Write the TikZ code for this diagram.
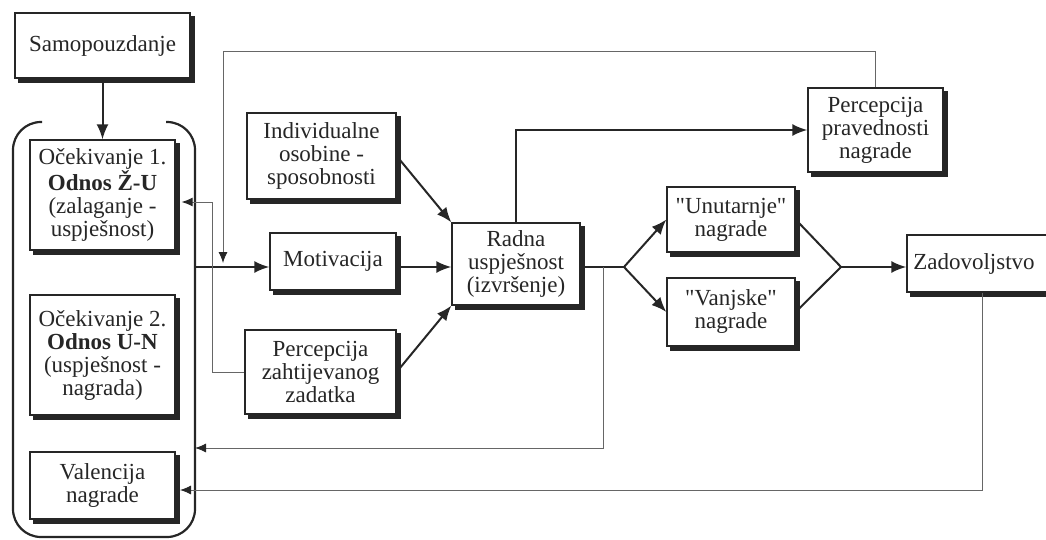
\documentclass[tikz,border=0pt]{standalone}
\usepackage{fontspec}
\setmainfont{Liberation Serif}
\usepackage{tikz}
\usetikzlibrary{arrows.meta}
\pgfdeclarelayer{back}
\pgfsetlayers{back,main}
\definecolor{inkgray}{gray}{0.15}
\definecolor{fbgray}{gray}{0.4}

\begin{document}
\begin{tikzpicture}[x=1pt, y=-1pt,
  box/.style={draw=inkgray, line width=1.3pt, fill=white, text=inkgray, align=center,
    inner sep=0pt, font=\fontsize{23}{23}\selectfont},
  bigline/.style={draw=inkgray, line width=2pt},
  bigarrow/.style={bigline, -{Latex[length=15pt, width=12pt]}},
  fbarrow/.style={draw=fbgray, line width=0.9pt, -{Latex[length=11pt, width=9pt, color=inkgray]}}]
  \useasboundingbox (0,0) rectangle (1046,540);
  % Left column
  \node[box, minimum width=175pt, minimum height=65pt] (samo) at (102.5,45.5) {Samopouzdanje};
  \node[box, minimum width=145pt, minimum height=110pt] (ocek1) at (102.5,195)
    {Očekivanje 1.\\ \textbf{Odnos Ž-U}\\ (zalaganje -\\ uspješnost)};
  \node[box, minimum width=145pt, minimum height=120pt] (ocek2) at (102.5,355)
    {Očekivanje 2.\\ \textbf{Odnos U-N}\\ (uspješnost -\\ nagrada)};
  \node[box, minimum width=145pt, minimum height=67pt] (val) at (102.5,485.5) {Valencija\\ nagrade};
  % Bracket round the expectations
  \draw[draw=inkgray, line width=2.2pt, rounded corners=28pt]
    (42,122) -- (13,122) -- (13,537) -- (195,537) -- (195,122) -- (166,122);
  % Middle column
  \node[box, minimum width=149pt, minimum height=86pt] (indiv) at (321.5,156)
    {Individualne\\ osobine -\\ sposobnosti};
  \node[box, minimum width=126pt, minimum height=57pt] (motiv) at (333,261.5) {Motivacija};
  \node[box, minimum width=151pt, minimum height=84pt] (perczad) at (320.5,372)
    {Percepcija\\ zahtijevanog\\ zadatka};
  \node[box, minimum width=128pt, minimum height=82pt] (radna) at (516,264)
    {Radna\\ uspješnost\\ (izvršenje)};
  % Right part
  \node[box, minimum width=135pt, minimum height=84pt] (percprav) at (875.5,130)
    {Percepcija\\ pravednosti\\ nagrade};
  \node[box, minimum width=128pt, minimum height=65pt] (unut) at (731,219.5)
    {\textquotedbl Unutarnje\textquotedbl\\ nagrade};
  \node[box, minimum width=128pt, minimum height=68pt] (vanj) at (731,312)
    {\textquotedbl Vanjske\textquotedbl\\ nagrade};
  \node[box, minimum width=150pt, minimum height=57pt] (zadov) at (982,263.5) {Zadovoljstvo\hspace*{16pt}};
  % Shadows
  \begin{pgfonlayer}{back}
    \foreach \n in {samo, ocek1, ocek2, val, indiv, motiv, perczad, radna, percprav, unut, vanj, zadov}
      \fill[inkgray] ([shift={(4pt,-4pt)}]\n.south west) rectangle ([shift={(4pt,-4pt)}]\n.north east);
  \end{pgfonlayer}
  % Helper points
  \coordinate (mline) at (195,267);
  \coordinate (branch) at (624,267);
  \coordinate (merge) at (841,267);
  \coordinate (fbtop) at (223,263);
  \coordinate (fbzad) at (212,202);
  \coordinate (fbrad) at (603,267);
  \coordinate (fbbr) at (195,448);
  \coordinate (fbval) at (180,490);
  % Main flow
  \draw[bigarrow] (samo.south) -- (ocek1.north);
  \draw[bigarrow] (mline) -- (mline -| motiv.west);
  \draw[bigarrow] (motiv.east |- mline) -- (radna.west |- mline);
  \draw[bigarrow] (indiv.east) -- (radna.north west);
  \draw[bigarrow] (perczad.east) -- (radna.south west);
  \draw[bigarrow] (radna.north) |- (percprav.west);
  \draw[bigline] (radna.east |- mline) -- (branch);
  \draw[bigarrow] (branch) -- (unut.west);
  \draw[bigarrow] (branch) -- (vanj.west);
  \draw[bigline] (unut.east) -- (merge);
  \draw[bigline] (vanj.east) -- (merge);
  \draw[bigarrow] (merge) -- (merge -| zadov.west);
  % Feedback loops
  \draw[fbarrow] (percprav.north) -- ++(0,-36) -| (fbtop);
  \draw[fbarrow] (perczad.west) -| (fbzad) -- ([xshift=6pt]ocek1.east |- fbzad);
  \draw[fbarrow] (fbrad) |- (fbbr);
  \draw[fbarrow] (zadov.south) |- (fbval);
\end{tikzpicture}
\end{document}
